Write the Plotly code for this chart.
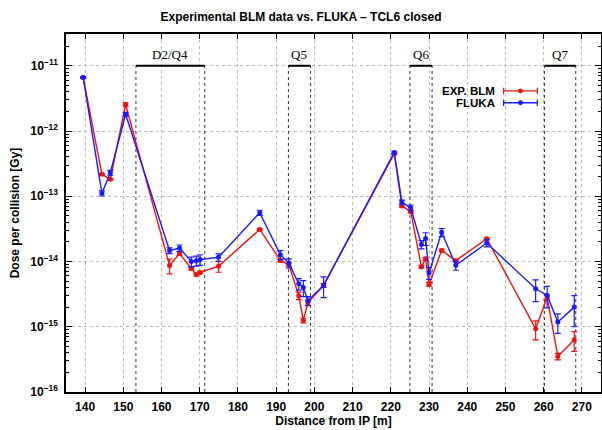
import plotly.graph_objects as go

# ---------------- data ----------------
distance = [139.5, 144.4, 146.6, 150.6, 162.1, 164.7, 167.8, 169.1, 170.1, 174.9,
            185.7, 191.1, 193.3, 195.9, 197.1, 198.3, 202.4, 220.9, 222.9, 225.2,
            228.0, 229.1, 230.0, 233.3, 237.0, 245.1, 257.9, 260.9, 263.7, 268.0]

dose_exp = [6.6e-12, 2.17e-13, 1.82e-13, 2.55e-12, 8.65e-15, 1.32e-14, 7.8e-15, 6.3e-15, 6.8e-15, 8.45e-15,
            3.1e-14, 1.04e-14, 9.0e-15, 3.0e-15, 1.25e-15, 2.33e-15, 4.3e-15, 4.5e-13, 7.1e-14, 5.85e-14,
            8.3e-15, 1.1e-14, 4.5e-15, 1.48e-14, 1.03e-14, 2.24e-14, 9.3e-16, 2.84e-15, 3.5e-16, 6.3e-16]
err_exp = [1e-13, 5e-15, 5e-15, 1.5e-13, 2.2e-15, 8e-16, 4e-16, 3e-16, 3e-16, 1.6e-15,
           1e-15, 5e-16, 5e-16, 4e-16, 1e-16, 2e-16, 3e-16, 1e-14, 3e-15, 3e-15,
           4e-16, 6e-16, 3e-16, 7e-16, 5e-16, 8e-16, 3e-16, 2e-16, 4e-17, 2.1e-16]

dose_fluka = [6.6e-12, 1.11e-13, 2.3e-13, 1.81e-12, 1.47e-14, 1.61e-14, 1.0e-14, 1.03e-14, 1.07e-14, 1.16e-14,
              5.6e-14, 1.27e-14, 9.5e-15, 4.55e-15, 4.0e-15, 2.5e-15, 4.3e-15, 4.7e-13, 8.1e-14, 6.65e-14,
              1.83e-14, 2.26e-14, 6.7e-15, 2.8e-14, 8.75e-15, 1.92e-14, 3.82e-15, 3.05e-15, 1.18e-15, 2.0e-15]
err_fluka = [2e-13, 1e-14, 2e-14, 1.2e-13, 1.5e-15, 1.8e-15, 1.7e-15, 1.8e-15, 2e-15, 1.5e-15,
             5e-15, 2e-15, 1.5e-15, 9e-16, 1.1e-15, 4e-16, 1.5e-15, 2e-14, 6e-15, 7e-15,
             2.7e-15, 5e-15, 1.4e-15, 4e-15, 1.4e-15, 2.4e-15, 1.4e-15, 1.1e-15, 3.9e-16, 1.0e-15]

magnet_names = ["D2/Q4", "Q5", "Q6", "Q7"]
magnet_start = [153.3, 193.2, 225.0, 260.2]
magnet_end = [171.3, 199.0, 230.8, 268.4]
magnet_level = 1e-11
y_floor = 1e-16

x_ticks = list(range(140, 271, 10))
y_tickvals = [1e-16, 1e-15, 1e-14, 1e-13, 1e-12, 1e-11]
y_ticktext = ["10<sup>−16</sup>", "10<sup>−15</sup>", "10<sup>−14</sup>",
              "10<sup>−13</sup>", "10<sup>−12</sup>", "10<sup>−11</sup>"]

RED = "#ee1111"
BLUE = "#1a1aff"

fig = go.Figure()

# magnet markers (dashed verticals + bars)
for name, s, e in zip(magnet_names, magnet_start, magnet_end):
    for xv in (s, e):
        fig.add_trace(go.Scatter(x=[xv, xv], y=[y_floor, magnet_level], mode="lines",
                                 line=dict(color="#333333", width=1, dash="3px,3px"),
                                 showlegend=False, hoverinfo="skip"))
    fig.add_trace(go.Scatter(x=[s, e], y=[magnet_level, magnet_level], mode="lines",
                             line=dict(color="black", width=2),
                             showlegend=False, hoverinfo="skip"))
    fig.add_annotation(x=(s + e) / 2, y=-11, text=name, showarrow=False,
                       yanchor="bottom", yshift=2,
                       font=dict(family="Liberation Serif", size=13, color="black"))

fig.add_trace(go.Scatter(x=distance, y=dose_exp, mode="lines+markers", name="EXP. BLM",
                         line=dict(color=RED, width=1.4),
                         marker=dict(color=RED, size=5),
                         error_y=dict(type="data", array=err_exp, color=RED,
                                      thickness=1.2, width=3),
                         showlegend=False))
fig.add_trace(go.Scatter(x=distance, y=dose_fluka, mode="lines+markers", name="FLUKA",
                         line=dict(color=BLUE, width=1.4),
                         marker=dict(color=BLUE, size=5),
                         error_y=dict(type="data", array=err_fluka, color=BLUE,
                                      thickness=1.2, width=3),
                         showlegend=False))

# manual legend (gnuplot style)
legend_items = [("EXP. BLM", RED, 0.841), ("FLUKA", BLUE, 0.808)]
for label, col, yp in legend_items:
    fig.add_annotation(xref="paper", yref="paper", x=0.805, y=yp, text=label,
                       showarrow=False, xanchor="right", yanchor="middle",
                       font=dict(family="Liberation Sans", size=11.5, color="black", weight="bold"))
    fig.add_shape(type="line", xref="paper", yref="paper", x0=0.818, x1=0.881, y0=yp, y1=yp,
                  line=dict(color=col, width=1.4))
    for xc in (0.818, 0.881):
        fig.add_shape(type="line", xref="paper", yref="paper", x0=xc, x1=xc,
                      y0=yp - 0.009, y1=yp + 0.009, line=dict(color=col, width=1.2))
    fig.add_shape(type="circle", xref="paper", yref="paper",
                  x0=0.8495 - 0.0045, x1=0.8495 + 0.0045, y0=yp - 0.0067, y1=yp + 0.0067,
                  fillcolor=col, line=dict(color=col, width=0))

axis_font = dict(family="Liberation Sans", size=12, color="black", weight="bold")

fig.update_layout(
    width=602, height=430,
    margin=dict(l=66, r=1, t=34, b=38),
    paper_bgcolor="white", plot_bgcolor="white",
    title=dict(text="Experimental BLM data vs. FLUKA – TCL6 closed",
               x=0.5, xanchor="center", y=0.962, yanchor="middle",
               font=dict(family="Liberation Sans", size=12, color="black", weight="bold")),
    showlegend=False,
)
fig.update_xaxes(
    range=[135, 275], tickvals=x_ticks, ticks="inside", ticklen=5, tickcolor="black",
    showline=True, linecolor="black", linewidth=1.5, mirror="allticks",
    showgrid=True, gridcolor="#bbbbbb", griddash="dot", gridwidth=1,
    zeroline=False, tickfont=axis_font, automargin=False, ticklabelstandoff=3,
    title=dict(text="Distance from IP [m]", font=axis_font, standoff=3),
)
fig.update_yaxes(
    type="log", range=[-16, -10.513], tickvals=y_tickvals, ticktext=y_ticktext,
    ticks="inside", ticklen=6, tickcolor="black",
    showline=True, linecolor="black", linewidth=1.5, mirror="allticks",
    showgrid=True, gridcolor="#bbbbbb", griddash="dot", gridwidth=1,
    zeroline=False, tickfont=axis_font, automargin=False, ticklabelstandoff=4,
    minor=dict(ticks="inside", ticklen=3, tickcolor="black", showgrid=False, dtick="D1"),
    title=dict(text="Dose per collision [Gy]", font=axis_font, standoff=8),
)

fig.write_html("out.html", config={"displayModeBar": False},
               post_script="document.body.style.margin='0';document.body.style.overflow='hidden';")
